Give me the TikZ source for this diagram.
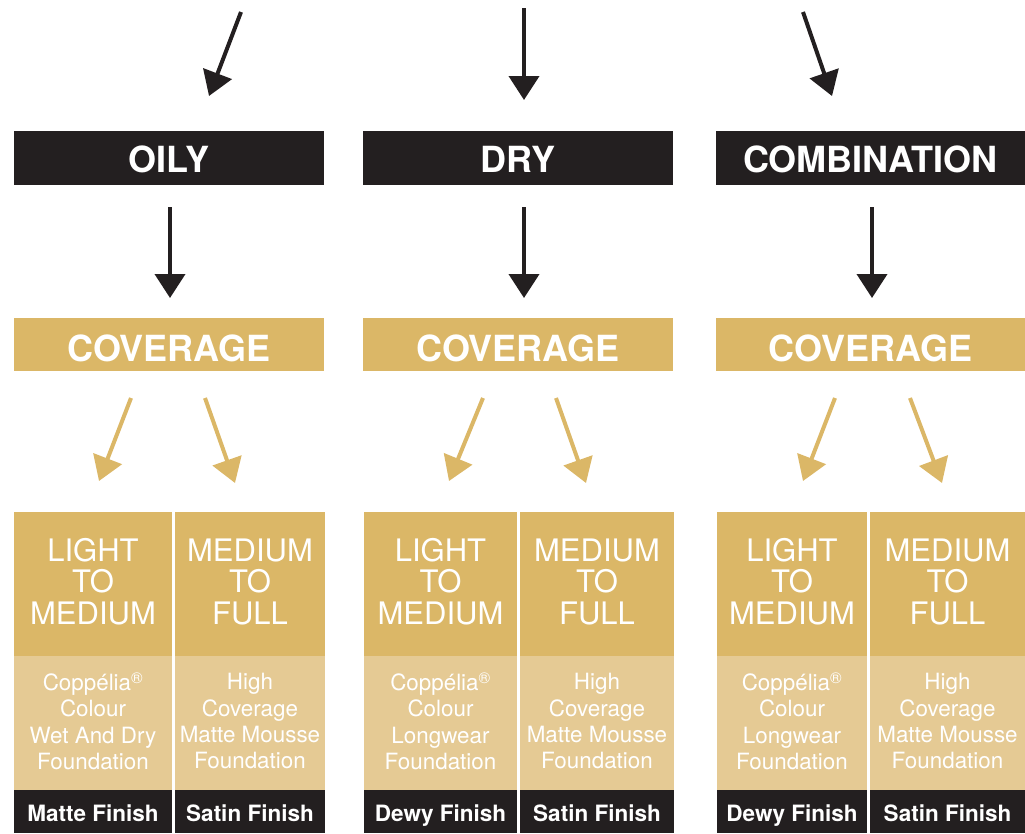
\documentclass[tikz,border=0pt]{standalone}
\usepackage{fontspec}
\setmainfont{TeX Gyre Heros}
\usetikzlibrary{arrows.meta}
\definecolor{inkblack}{HTML}{231F20}
\definecolor{golddark}{HTML}{DBB767}
\definecolor{goldlight}{HTML}{E5CA94}
\begin{document}
\begin{tikzpicture}[x=1pt,y=-1pt,
  skinbox/.style={fill=inkblack, text=white, font=\fontsize{36}{40}\selectfont\bfseries, inner sep=0pt, outer sep=0pt, minimum height=54pt, text height=28pt, text depth=0pt},
  covbox/.style={fill=golddark, text=white, font=\fontsize{36}{40}\selectfont\bfseries, inner sep=0pt, outer sep=0pt, minimum height=53pt, text height=33pt, text depth=0pt},
  levelbox/.style={fill=golddark, text=white, align=center, font=\fontsize{31}{31.5}\selectfont, inner sep=0pt, outer sep=0pt, minimum height=144pt, text depth=5.5pt},
  prodbox/.style={fill=goldlight, text=white, align=center, font=\fontsize{22.4}{26.3}\selectfont, inner sep=0pt, outer sep=0pt, minimum height=134pt, text depth=4pt},
  finbox/.style={fill=inkblack, text=white, font=\fontsize{22.5}{24}\selectfont\bfseries, inner sep=0pt, outer sep=0pt, minimum height=43pt, text height=19pt, text depth=0pt},
  blackarrow/.style={draw=inkblack, line width=4pt, -{Triangle[length=24pt,width=30pt]}},
  goldarrow/.style={draw=golddark, line width=4pt, -{Triangle[length=24pt,width=30pt]}}]
\useasboundingbox (0,0) rectangle (1025,833);

% skin type boxes
\node[skinbox, minimum width=310pt] (oily) at (169,158) {OILY};
\node[skinbox, minimum width=310pt] (dry) at (518,158) {DRY};
\node[skinbox, minimum width=309pt] (comb) at (870.5,158) {COMBINATION};

% coverage boxes
\node[covbox, minimum width=310pt] (cov1) at (169,344.5) {COVERAGE};
\node[covbox, minimum width=310pt] (cov2) at (518,344.5) {COVERAGE};
\node[covbox, minimum width=309pt] (cov3) at (870.5,344.5) {COVERAGE};

% OILY columns
\node[levelbox, minimum width=158pt] (l1) at (93,584) {LIGHT\\TO\\MEDIUM};
\node[prodbox, minimum width=158pt] (p1) at (93,723) {Coppélia\textsuperscript{®}\\Colour\\Wet And Dry\\Foundation};
\node[finbox, minimum width=158pt] (f1) at (93,811.5) {Matte Finish};
\node[levelbox, minimum width=150pt] (l2) at (250,584) {MEDIUM\\TO\\FULL};
\node[prodbox, minimum width=150pt] (p2) at (250,723) {High\\Coverage\\Matte Mousse\\Foundation};
\node[finbox, minimum width=150pt] (f2) at (250,811.5) {Satin Finish};

% DRY columns
\node[levelbox, minimum width=153pt] (l3) at (440.5,584) {LIGHT\\TO\\MEDIUM};
\node[prodbox, minimum width=153pt] (p3) at (440.5,723) {Coppélia\textsuperscript{®}\\Colour\\Longwear\\Foundation};
\node[finbox, minimum width=153pt] (f3) at (440.5,811.5) {Dewy Finish};
\node[levelbox, minimum width=154pt] (l4) at (597,584) {MEDIUM\\TO\\FULL};
\node[prodbox, minimum width=154pt] (p4) at (597,723) {High\\Coverage\\Matte Mousse\\Foundation};
\node[finbox, minimum width=154pt] (f4) at (597,811.5) {Satin Finish};

% COMBINATION columns
\node[levelbox, minimum width=150pt] (l5) at (792,584) {LIGHT\\TO\\MEDIUM};
\node[prodbox, minimum width=150pt] (p5) at (792,723) {Coppélia\textsuperscript{®}\\Colour\\Longwear\\Foundation};
\node[finbox, minimum width=150pt] (f5) at (792,811.5) {Dewy Finish};
\node[levelbox, minimum width=155pt] (l6) at (947.5,584) {MEDIUM\\TO\\FULL};
\node[prodbox, minimum width=155pt] (p6) at (947.5,723) {High\\Coverage\\Matte Mousse\\Foundation};
\node[finbox, minimum width=155pt] (f6) at (947.5,811.5) {Satin Finish};

% arrow end points
\coordinate (a1s) at (241,12);  \coordinate (a1e) at (209,96);
\coordinate (a2s) at (524,8);   \coordinate (a2e) at (524,100);
\coordinate (a3s) at (803,12);  \coordinate (a3e) at (832,96);
\coordinate (b1s) at (170,207); \coordinate (b1e) at (170,298);
\coordinate (b2s) at (524,207); \coordinate (b2e) at (524,298);
\coordinate (b3s) at (872,207); \coordinate (b3e) at (872,298);
\coordinate (c1s) at (131,398); \coordinate (c1e) at (99,481);
\coordinate (c2s) at (205,398); \coordinate (c2e) at (235,483);
\coordinate (c3s) at (483,398); \coordinate (c3e) at (449,481);
\coordinate (c4s) at (556,398); \coordinate (c4e) at (586,483);
\coordinate (c5s) at (835,398); \coordinate (c5e) at (803,481);
\coordinate (c6s) at (910,398); \coordinate (c6e) at (942,483);

\draw[blackarrow] (a1s) -- (a1e);
\draw[blackarrow] (a2s) -- (a2e);
\draw[blackarrow] (a3s) -- (a3e);
\draw[blackarrow] (b1s) -- (b1e);
\draw[blackarrow] (b2s) -- (b2e);
\draw[blackarrow] (b3s) -- (b3e);
\draw[goldarrow] (c1s) -- (c1e);
\draw[goldarrow] (c2s) -- (c2e);
\draw[goldarrow] (c3s) -- (c3e);
\draw[goldarrow] (c4s) -- (c4e);
\draw[goldarrow] (c5s) -- (c5e);
\draw[goldarrow] (c6s) -- (c6e);
\end{tikzpicture}
\end{document}
